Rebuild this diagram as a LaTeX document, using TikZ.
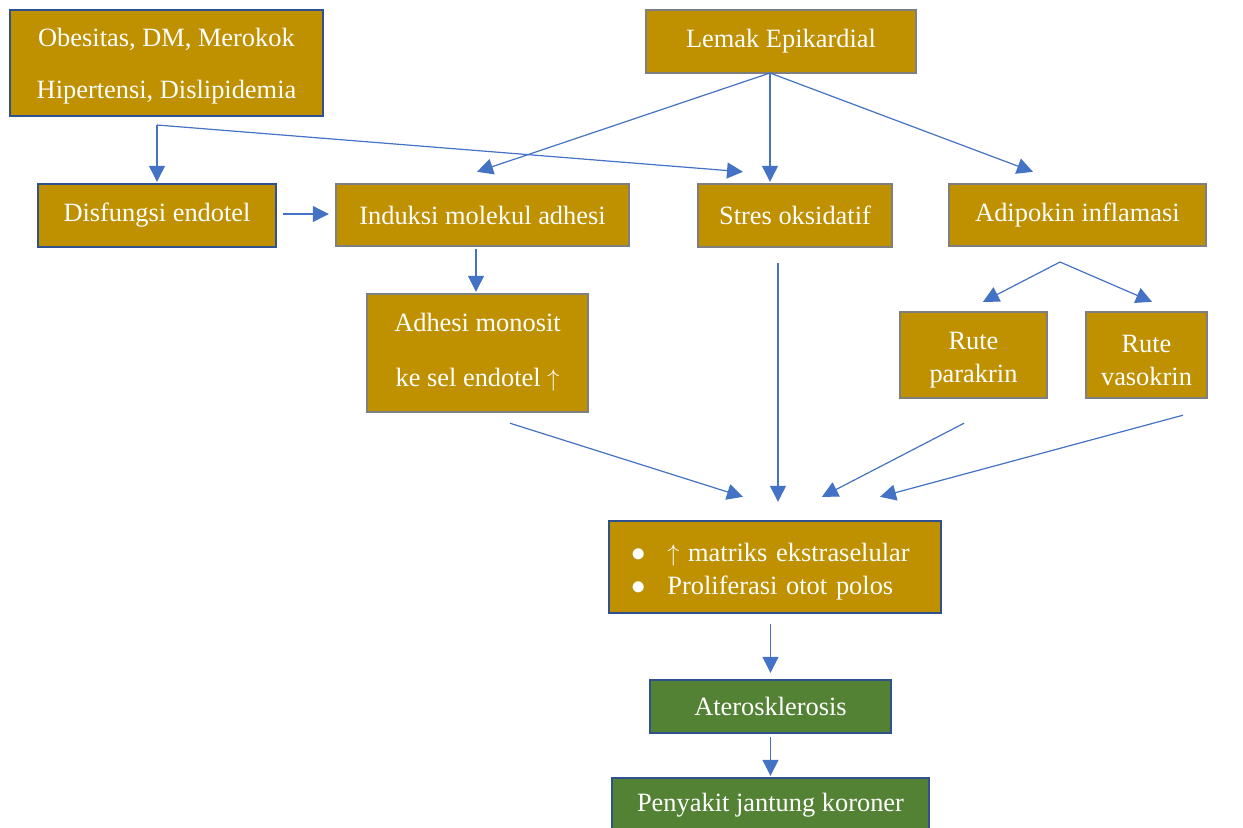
\documentclass[tikz,border=0pt]{standalone}
\usepackage{fontspec}
\setmainfont{Liberation Serif}
\usetikzlibrary{arrows.meta, calc}
\definecolor{boxgold}{HTML}{BF9000}
\definecolor{boxgreen}{HTML}{548235}
\definecolor{edgeblue}{HTML}{2F528F}
\definecolor{edgegray}{HTML}{7F7F7F}
\definecolor{arrowblue}{HTML}{4472C4}
\newcommand{\upar}{$\uparrow$}
\newcommand{\blt}{\raisebox{-0.3pt}{\fontsize{15}{15}\selectfont$\bullet$}}
\begin{document}
\begin{tikzpicture}[x=0.5pt, y=-0.5pt,
  box/.style={fill=boxgold, draw=edgegray, line width=1.2pt, text=white, inner sep=0pt,
    align=center, font=\fontsize{13.2}{16.5}\selectfont},
  bluebox/.style={box, draw=edgeblue},
  greenbox/.style={box, fill=boxgreen, draw=edgeblue},
  arr/.style={draw=arrowblue, line width=0.6pt, -{Triangle[length=8pt,width=8pt]}}]
\useasboundingbox (0,0) rectangle (1243,827);

% top row
\node[bluebox, minimum width=156.5pt, minimum height=53pt] (risk) at (166.5,63)
  {\rule{0pt}{12pt}Obesitas, DM, Merokok\\[9.5pt]Hipertensi, Dislipidemia};
\node[box, minimum width=135pt, minimum height=31.5pt] (lemak) at (781,41.5) {Lemak Epikardial};

% second row
\node[bluebox, minimum width=119pt, minimum height=31.5pt] (disf) at (157,215.5) {Disfungsi endotel};
\node[box, minimum width=146.5pt, minimum height=31pt] (induksi) at (482.5,215) {Induksi molekul adhesi};
\node[box, minimum width=97pt, minimum height=31.5pt] (stres) at (795,215.5) {Stres oksidatif};
\node[box, minimum width=128.5pt, minimum height=31pt] (adipokin) at (1077.5,215) {Adipokin inflamasi};

% third row
\node[box, minimum width=110.5pt, minimum height=59pt] (adhesi) at (477.5,353)
  {Adhesi monosit\\[11pt]ke sel endotel \upar\rule[-3pt]{0pt}{0pt}};
\node[box, minimum width=73.5pt, minimum height=43pt] (parakrin) at (973.5,355)
  {\rule{0pt}{13.7pt}Rute\\parakrin};
\node[box, minimum width=60.5pt, minimum height=43pt] (vasokrin) at (1146.5,355)
  {\rule{0pt}{13.7pt}Rute\\vasokrin};

% bottom
\node[bluebox, minimum width=166pt, minimum height=46pt, text width=144pt, align=left,
  inner xsep=11pt] (efek) at (775,567)
  {\rule{0pt}{13.5pt}\blt\hspace{11pt}\upar{} matriks ekstraselular\\\blt\hspace{11pt}Proliferasi otot polos};
\node[greenbox, minimum width=120.5pt, minimum height=26.5pt] (ateros) at (770.5,706.5) {Aterosklerosis};
\node[greenbox, minimum width=158.5pt, minimum height=27pt] (pjk) at (770.5,805) {Penyakit jantung koroner};

% connectors
\coordinate (lemakout) at (770,73);
\coordinate (riskout) at (157,125);
\coordinate (adipout) at (1060,262);

\draw[arr] (lemakout) -- ($(induksi.north)+(-5.5,-11)$);
\draw[arr] (lemakout) -- ($(stres.north)+(-25,-1)$);
\draw[arr] (lemakout) -- ($(adipokin.north)+(-44.5,-11)$);
\draw[arr] (riskout) -- ($(disf.north)+(0,-1)$);
\draw[arr] (riskout) -- ($(stres.north)+(-52,-11)$);
\draw[arr] ($(disf.east)+(6,-1.5)$) -- ($(induksi.west)+(-6,-1)$);
\draw[arr] ($(induksi.south)+(-6.5,2)$) -- ($(adhesi.north)+(-1.5,-1)$);
\draw[arr] (adipout) -- ($(parakrin.north)+(9.5,-9)$);
\draw[arr] (adipout) -- ($(vasokrin.north)+(5.5,-9)$);

\draw[arr] ($(adhesi.south)+(32.5,10)$) -- ($(efek.north)+(-32,-23)$);
\draw[arr] ($(stres.south)+(-17,15)$) -- ($(efek.north)+(3,-18)$);
\draw[arr] ($(parakrin.south)+(-9.5,24)$) -- ($(efek.north)+(47,-23)$);
\draw[arr] ($(vasokrin.south)+(36.5,16)$) -- ($(efek.north)+(105,-23)$);

\draw[arr] ($(efek.south)+(-4.5,10)$) -- ($(ateros.north)+(0,-6)$);
\draw[arr] ($(ateros.south)+(0,3)$) -- ($(pjk.north)+(0,-1)$);
\end{tikzpicture}
\end{document}
